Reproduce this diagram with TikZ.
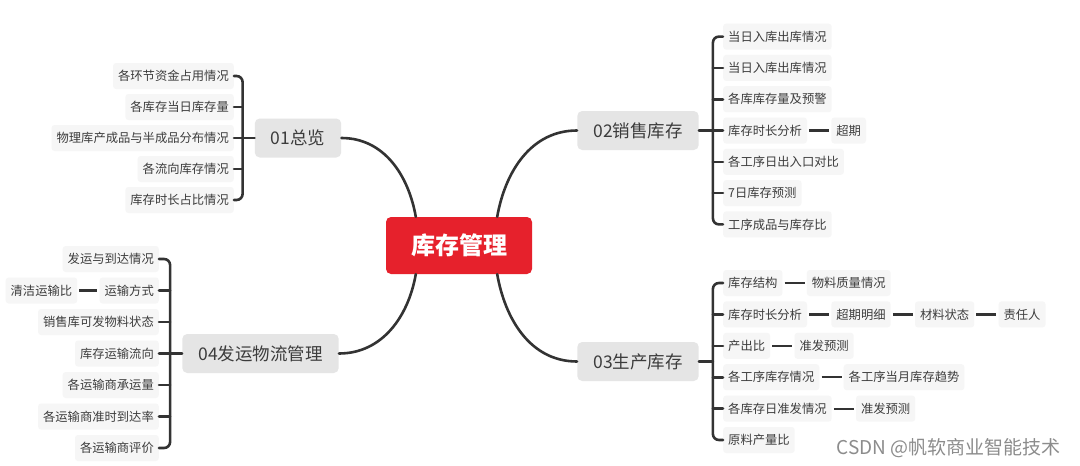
\documentclass[tikz,border=0pt]{standalone}
\usepackage{fontspec}
\setmainfont{Noto Sans CJK SC}
\usetikzlibrary{positioning}

\definecolor{corered}{RGB}{230,33,44}
\definecolor{topicgray}{RGB}{229,229,229}
\definecolor{leafgray}{RGB}{246,246,246}
\definecolor{linegray}{RGB}{51,51,51}
\definecolor{inkgray}{RGB}{60,60,60}

\tikzset{
  corebox/.style={fill=corered, text=white, rounded corners=5pt, minimum height=57pt,
    inner xsep=25pt, font=\fontsize{24}{28}\selectfont\bfseries},
  topic/.style={fill=topicgray, text=inkgray, rounded corners=5pt, minimum height=39pt,
    inner xsep=16pt, font=\fontsize{17.5}{20}\selectfont},
  leaf/.style={fill=leafgray, text=inkgray, rounded corners=3pt, minimum height=26pt,
    inner xsep=5pt, inner ysep=0pt, font=\fontsize{12.3}{14}\selectfont},
  branch/.style={draw=linegray, line width=2.6pt, line cap=round},
  bracket/.style={branch, rounded corners=6pt},
  linkline/.style={draw=linegray, line width=2.2pt, shorten <=2pt, shorten >=2pt},
}

\begin{document}
\begin{tikzpicture}[x=1pt, y=-1pt]
  \fill[white] (0,0) rectangle (1080,466);
  \useasboundingbox (0,0) rectangle (1080,466);

  % Centre and main topics
  \node[corebox] (kc) at (459,245.5) {库存管理};
  \node[topic] (ov) at (298,138) {01总览};
  \node[topic] (sales) at (638,130.5) {02销售库存};
  \node[topic] (prod) at (638,361.5) {03生产库存};
  \node[topic] (ship) at (260.5,353.5) {04发运物流管理};

  % Curves from the centre
  \draw[branch] (ov.east) to[out=0,in=100] ([xshift=30pt]kc.north west);
  \draw[branch] (sales.west) to[out=180,in=80] ([xshift=-35pt]kc.north east);
  \draw[branch] (prod.west) to[out=180,in=-80] ([xshift=-35pt]kc.south east);
  \draw[branch] (ship.east) to[out=0,in=-100] ([xshift=30pt]kc.south west);

  % 01 overview
  \coordinate (ovhub) at ([xshift=-12pt]ov.west);
  \node[leaf, anchor=east] (ov1) at (234,76) {各环节资金占用情况};
  \node[leaf, anchor=east] (ov2) at (234,107) {各库存当日库存量};
  \node[leaf, anchor=east] (ov3) at (234,138) {物理库产成品与半成品分布情况};
  \node[leaf, anchor=east] (ov4) at (234,169) {各流向库存情况};
  \node[leaf, anchor=east] (ov5) at (234,200) {库存时长占比情况};
  \draw[bracket] (ov1.east) -| (ovhub) |- (ov5.east);
  \draw[branch] (ov.west) -- (ov3.east);
  \draw[branch] (ov2.east) -- (ov2.east -| ovhub);
  \draw[branch] (ov4.east) -- (ov4.east -| ovhub);

  % 02 sales stock
  \coordinate (sahub) at ([xshift=14pt]sales.east);
  \node[leaf, anchor=west] (sa1) at (723,36.6) {当日入库出库情况};
  \node[leaf, anchor=west] (sa2) at (723,67.9) {当日入库出库情况};
  \node[leaf, anchor=west] (sa3) at (723,99.2) {各库库存量及预警};
  \node[leaf, anchor=west] (sa4) at (723,130.5) {库存时长分析};
  \node[leaf, anchor=west] (sa5) at (723,161.8) {各工序日出入口对比};
  \node[leaf, anchor=west] (sa6) at (723,193.1) {7日库存预测};
  \node[leaf, anchor=west] (sa7) at (723,224.4) {工序成品与库存比};
  \draw[bracket] (sa1.west) -| (sahub) |- (sa7.west);
  \draw[branch] (sales.east) -- (sa4.west);
  \draw[branch] (sa2.west) -- (sa2.west -| sahub);
  \draw[branch] (sa3.west) -- (sa3.west -| sahub);
  \draw[branch] (sa5.west) -- (sa5.west -| sahub);
  \draw[branch] (sa6.west) -- (sa6.west -| sahub);
  \node[leaf, right=24pt of sa4] (sa4a) {超期};
  \draw[linkline] (sa4) -- (sa4a);

  % 03 production stock
  \coordinate (prhub) at ([xshift=14pt]prod.east);
  \node[leaf, anchor=west] (pr1) at (723,283) {库存结构};
  \node[leaf, anchor=west] (pr2) at (723,314.4) {库存时长分析};
  \node[leaf, anchor=west] (pr3) at (723,345.8) {产出比};
  \node[leaf, anchor=west] (pr4) at (723,377.2) {各工序库存情况};
  \node[leaf, anchor=west] (pr5) at (723,408.6) {各库存日准发情况};
  \node[leaf, anchor=west] (pr6) at (723,440) {原料产量比};
  \draw[bracket] (pr1.west) -| (prhub) |- (pr6.west);
  \draw[branch] (prod.east) -- (prhub);
  \draw[branch] (pr2.west) -- (pr2.west -| prhub);
  \draw[branch] (pr3.west) -- (pr3.west -| prhub);
  \draw[branch] (pr4.west) -- (pr4.west -| prhub);
  \draw[branch] (pr5.west) -- (pr5.west -| prhub);
  \node[leaf, right=24pt of pr1] (pr1a) {物料质量情况};
  \node[leaf, right=24pt of pr2] (pr2a) {超期明细};
  \node[leaf, right=24pt of pr2a] (pr2b) {材料状态};
  \node[leaf, right=24pt of pr2b] (pr2c) {责任人};
  \node[leaf, right=24pt of pr3] (pr3a) {准发预测};
  \node[leaf, right=24pt of pr4] (pr4a) {各工序当月库存趋势};
  \node[leaf, right=24pt of pr5] (pr5a) {准发预测};
  \draw[linkline] (pr1) -- (pr1a);
  \draw[linkline] (pr2) -- (pr2a);
  \draw[linkline] (pr2a) -- (pr2b);
  \draw[linkline] (pr2b) -- (pr2c);
  \draw[linkline] (pr3) -- (pr3a);
  \draw[linkline] (pr4) -- (pr4a);
  \draw[linkline] (pr5) -- (pr5a);

  % 04 shipping and logistics
  \coordinate (shhub) at ([xshift=-12pt]ship.west);
  \node[leaf, anchor=east] (sh1) at (159,259) {发运与到达情况};
  \node[leaf, anchor=east] (sh2) at (159,290.5) {运输方式};
  \node[leaf, anchor=east] (sh3) at (159,322) {销售库可发物料状态};
  \node[leaf, anchor=east] (sh4) at (159,353.5) {库存运输流向};
  \node[leaf, anchor=east] (sh5) at (159,385) {各运输商承运量};
  \node[leaf, anchor=east] (sh6) at (159,416.5) {各运输商准时到达率};
  \node[leaf, anchor=east] (sh7) at (159,448) {各运输商评价};
  \draw[bracket] (sh1.east) -| (shhub) |- (sh7.east);
  \draw[branch] (ship.west) -- (sh4.east);
  \draw[branch] (sh2.east) -- (sh2.east -| shhub);
  \draw[branch] (sh3.east) -- (sh3.east -| shhub);
  \draw[branch] (sh5.east) -- (sh5.east -| shhub);
  \draw[branch] (sh6.east) -- (sh6.east -| shhub);
  \node[leaf, left=22pt of sh2] (sh2a) {清洁运输比};
  \draw[linkline] (sh2a) -- (sh2);

  % Watermark
  \node[font=\fontsize{19}{22}\selectfont, text=black!45, anchor=east] (mark) at (1064,448)
    {CSDN @帆软商业智能技术};
\end{tikzpicture}
\end{document}
